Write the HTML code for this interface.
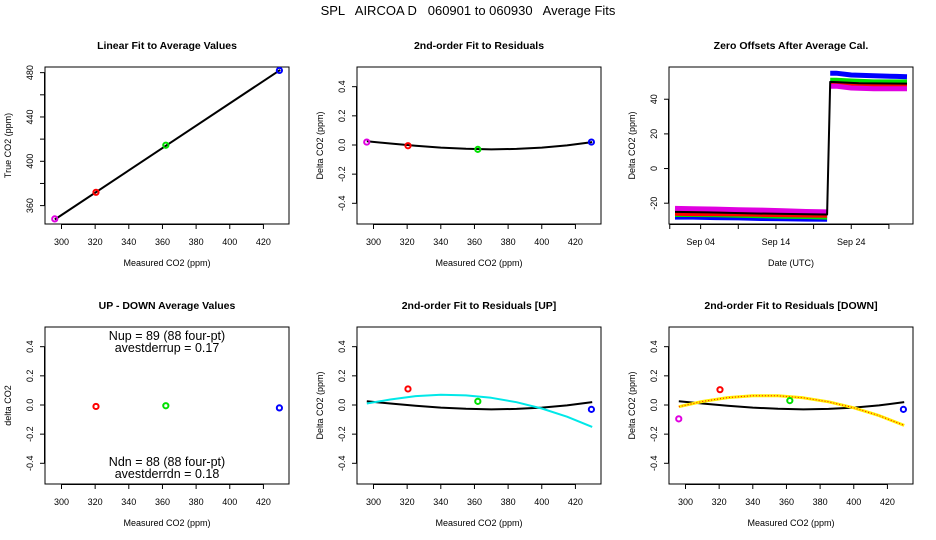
<!DOCTYPE html>
<html><head><meta charset="utf-8">
<style>
html,body{margin:0;padding:0;background:#fff;}
svg{display:block;font-family:"Liberation Sans",Arial,sans-serif;}
</style></head>
<body>
<svg id="chart" width="936" height="540" viewBox="0 0 936 540">
<rect width="936" height="540" fill="#fff"/>
<text x="468" y="15" text-anchor="middle" font-size="13" xml:space="preserve">SPL   AIRCOA D   060901 to 060930   Average Fits</text>
</svg>
<script>
// ---------- data ----------
const ptColors = ['#e000e0','red','#00e000','blue'];
const measCO2 = [296, 320.5, 362, 429.5];
const trueCO2 = [348, 372, 414.5, 482];
const residAll = [0.02, -0.005, -0.03, 0.02];
const udX = [320.5, 362, 429.5];
const udColors = ['red','#00e000','blue'];
const udVals = [-0.01, -0.005, -0.02];
const upX = [320.5, 362, 429.5];
const upColors = ['red','#00e000','blue'];
const upVals = [0.11, 0.025, -0.03];
const dnX = [296, 320.5, 362, 429.5];
const dnVals = [-0.095, 0.105, 0.03, -0.03];
const fitX = [296, 310, 325, 340, 355, 370, 385, 400, 415, 430];
const fitAll = [0.025, 0.01, -0.005, -0.018, -0.026, -0.03, -0.027, -0.018, -0.003, 0.02];
const fitUp = [0.01, 0.038, 0.061, 0.07, 0.066, 0.049, 0.019, -0.024, -0.08, -0.15];
const fitDn = [-0.012, 0.024, 0.051, 0.064, 0.063, 0.049, 0.022, -0.019, -0.073, -0.14];
const linX = [296, 430];
const linY = [347.5, 482.5];
const xTicks = [300, 320, 340, 360, 380, 400, 420];
const linYTicks = [360, 380, 400, 420, 440, 460, 480];
const linYLabels = ['360', '', '400', '', '440', '', '480'];
const resTicks = [-0.4, -0.2, 0, 0.2, 0.4];
const resLabels = ['-0.4', '-0.2', '0.0', '0.2', '0.4'];
// zero offsets (day of month)
const zPreDays = [0.6, 3, 6, 9, 12, 15, 18, 20.8];
const zPostDays = [21.2, 22, 24, 27, 30, 31.4];
const zColors = ['blue', '#00e000', 'red', '#e000e0'];
const zPre = [[-28, -28, -28.3, -28.5, -28.8, -29, -29.2, -29.3],
              [-26.5, -26.5, -26.7, -27, -27.2, -27.5, -27.7, -28],
              [-25.8, -26, -26, -26.2, -26.4, -26.6, -26.8, -27],
              [-23, -23.2, -23.4, -23.8, -24, -24.4, -24.8, -25]];
const zPost = [[55, 55, 54, 53.5, 53.2, 53],
               [51, 51, 50.5, 50, 50, 50],
               [49, 49, 48.5, 48, 48, 48],
               [47.5, 47.5, 46.5, 46, 46, 46]];
const zBlackDays = [0.6, 5, 10, 15, 20.8, 21.2, 25, 31.4];
const zBlack = [-25, -25.3, -25.8, -26.2, -26.5, 50, 49.2, 49];
const zXTicks = [0, 5, 10, 15, 20, 25, 30];
const zXLabels = ['', 'Sep 04', '', 'Sep 14', '', 'Sep 24', ''];
const zXTickDays = [-0.1, 4, 9, 14, 19, 24, 29];
const zYTicks = [-20, 0, 20, 40];

// ---------- helpers ----------
const NS = 'http://www.w3.org/2000/svg';
const svg = document.getElementById('chart');
function el(tag, attrs, parent, txt){
  const e = document.createElementNS(NS, tag);
  for (const k in attrs) e.setAttribute(k, attrs[k]);
  if (txt !== undefined) e.textContent = txt;
  (parent || svg).appendChild(e);
  return e;
}
function lin(d0, d1, r0, r1){ return v => r0 + (v - d0) * (r1 - r0) / (d1 - d0); }

function panel(o){
  const g = el('g', {});
  
  
  const L = o.left, R = o.left + 244, T = o.top, B = o.top + 157;
  const sx = lin(o.xd[0], o.xd[1], L, R), sy = lin(o.yd[0], o.yd[1], B, T);
  const t = el('text', {x: (L + R) / 2, y: T - 18, 'text-anchor': 'middle', 'font-size': 10.5, 'font-weight': 'bold'}, g, o.title);
  
  
  const box = el('rect', {x: L, y: T, width: R - L, height: B - T, fill: 'none', stroke: '#000', 'stroke-width': 1}, g);
  
  
  // x axis
  const xs = o.xt.map(sx);
  el('line', {x1: xs[0], x2: xs[xs.length - 1], y1: B + 0.5, y2: B + 0.5, stroke: '#000'}, g);
  o.xt.forEach((v, i) => {
    const x = sx(v);
    el('line', {x1: x, x2: x, y1: B, y2: B + 5, stroke: '#000'}, g);
    const lab = o.xl ? o.xl[i] : String(v);
    if (lab) {
      const tl = el('text', {x: x, y: B + 21, 'text-anchor': 'middle', 'font-size': 9}, g, lab);
      
      
    }
  });
  // y axis
  const ys = o.yt.map(sy);
  el('line', {x1: L - 0.5, x2: L - 0.5, y1: ys[0], y2: ys[ys.length - 1], stroke: '#000'}, g);
  o.yt.forEach((v, i) => {
    const y = sy(v);
    el('line', {x1: L - 5, x2: L, y1: y, y2: y, stroke: '#000'}, g);
    const lab = o.yl ? o.yl[i] : String(v);
    if (lab) {
      const tl = el('text', {x: 0, y: 0, 'text-anchor': 'middle', 'font-size': 9, transform: `translate(${L - 12},${y}) rotate(-90)`}, g, lab);
      
      
    }
  });
  const xt = el('text', {x: (L + R) / 2, y: B + 42, 'text-anchor': 'middle', 'font-size': 9}, g, o.xlab);
  
  
  const yt = el('text', {x: 0, y: 0, 'text-anchor': 'middle', 'font-size': 9, transform: `translate(${L - 34},${(T + B) / 2}) rotate(-90)`}, g, o.ylab);
  
  
  return {g, sx, sy, L, R, T, B};
}
function pts(p, xs, ys, cols, name){
  xs.forEach((x, i) => {
    const c = el('circle', {cx: p.sx(x), cy: p.sy(ys[i]), r: 2.6, fill: 'none', stroke: cols[i], 'stroke-width': 2}, p.g);
    
    
  });
}
function line(p, xs, ys, color, w, name, dash){
  const d = xs.map((x, i) => (i ? 'L' : 'M') + p.sx(x).toFixed(1) + ',' + p.sy(ys[i]).toFixed(1)).join('');
  const a = {d: d, fill: 'none', stroke: color, 'stroke-width': w, 'stroke-linejoin': 'round'};
  if (dash) a['stroke-dasharray'] = dash;
  const e = el('path', a, p.g);
  
  
  return e;
}

const XD = [290.2, 435.2], RD = [-0.542, 0.535];
const mx = 'Measured CO2 (ppm)';

// panel 1
const p1 = panel({name: 'linear-fit-panel', left: 45, top: 67, xd: XD, yd: [343.4, 485.1], xt: xTicks, yt: linYTicks, yl: linYLabels, title: 'Linear Fit to Average Values', xlab: mx, ylab: 'True CO2 (ppm)'});
line(p1, linX, linY, '#000', 2, 'linear-fit-line');
pts(p1, measCO2, trueCO2, ptColors, 'average-point');

// panel 2
const p2 = panel({name: 'residual-fit-panel', left: 357, top: 67, xd: XD, yd: RD, xt: xTicks, yt: resTicks, yl: resLabels, title: '2nd-order Fit to Residuals', xlab: mx, ylab: 'Delta CO2 (ppm)'});
line(p2, fitX, fitAll, '#000', 2, 'quadratic-fit-line');
pts(p2, measCO2, residAll, ptColors, 'residual-point');

// panel 3
const p3 = panel({name: 'zero-offsets-panel', left: 669, top: 67, xd: [-0.2, 32.2], yd: [-32, 58.6], xt: zXTickDays, xl: zXLabels, yt: zYTicks, title: 'Zero Offsets After Average Cal.', xlab: 'Date (UTC)', ylab: 'Delta CO2 (ppm)'});
zColors.forEach((c, i) => {
  line(p3, zPreDays, zPre[i], c, 5, 'offset-series-before');
  line(p3, zPostDays, zPost[i], c, 5, 'offset-series-after');
});
line(p3, zBlackDays, zBlack, '#000', 2, 'offset-mean-line');

// panel 4
const p4 = panel({name: 'up-down-panel', left: 45, top: 327, xd: XD, yd: RD, xt: xTicks, yt: resTicks, yl: resLabels, title: 'UP - DOWN Average Values', xlab: mx, ylab: 'delta CO2'});
pts(p4, udX, udVals, udColors, 'up-down-point');
[['Nup = 89 (88 four-pt)', 340], ['avestderrup =  0.17', 352], ['Ndn = 88 (88 four-pt)', 466], ['avestderrdn =  0.18', 478]].forEach(a => {
  const t = el('text', {x: 167, y: a[1], 'text-anchor': 'middle', 'font-size': 12.5, 'xml:space': 'preserve'}, p4.g, a[0]);
  
  
});

// panel 5
const p5 = panel({name: 'residual-up-panel', left: 357, top: 327, xd: XD, yd: RD, xt: xTicks, yt: resTicks, yl: resLabels, title: '2nd-order Fit to Residuals [UP]', xlab: mx, ylab: 'Delta CO2 (ppm)'});
line(p5, fitX, fitAll, '#000', 2, 'quadratic-fit-line');
line(p5, fitX, fitUp, '#00e8e8', 2, 'up-fit-line');
pts(p5, upX, upVals, upColors, 'up-point');

// panel 6
const p6 = panel({name: 'residual-down-panel', left: 669, top: 327, xd: XD, yd: RD, xt: xTicks, yt: resTicks, yl: resLabels, title: '2nd-order Fit to Residuals [DOWN]', xlab: mx, ylab: 'Delta CO2 (ppm)'});
line(p6, fitX, fitAll, '#000', 2, 'quadratic-fit-line');
line(p6, fitX, fitDn, '#ffee00', 3, 'down-fit-line');
line(p6, fitX, fitDn, 'red', 1, 'down-fit-line-dots', '1,2');
pts(p6, dnX, dnVals, ptColors, 'down-point');
</script>
</body></html>
